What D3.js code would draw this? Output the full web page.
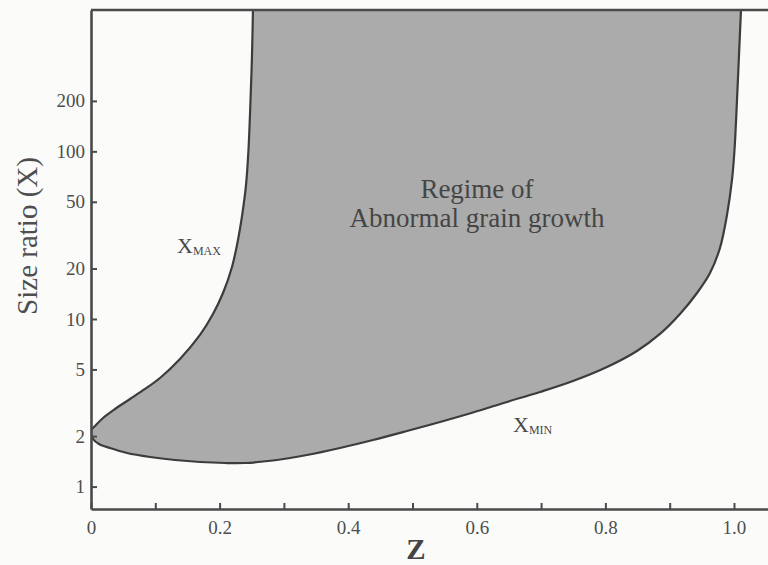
<!DOCTYPE html>
<html>
<head>
<meta charset="utf-8">
<script src="https://cdn.jsdelivr.net/npm/d3@7"></script>
<style>
  html, body { margin: 0; padding: 0; background: #fbfbfa; }
  svg { display: block; }
  text { font-family: "Liberation Serif", "Times New Roman", serif; }
</style>
</head>
<body>
<script>
// Upper boundary of the abnormal-growth regime (X_MAX) vs. Z
const zMax = [0.0000, 0.0078, 0.0187, 0.0373, 0.0607, 0.0840, 0.1073, 0.1384, 0.1695, 0.1897,
              0.2053, 0.2193, 0.2286, 0.2356, 0.2411, 0.2449, 0.2481, 0.2504, 0.2519];
const xMax = [2.15, 2.331, 2.567, 2.904, 3.332, 3.824, 4.446, 5.77, 8.03, 10.71,
              14.29, 20.43, 29.60, 42.91, 63.03, 101.9, 202.6, 376.0, 697];

// Lower boundary (X_MIN) vs. Z
const zMin = [0.0000, 0.0031, 0.0124, 0.0295, 0.0560, 0.0918, 0.1306, 0.1695, 0.2084, 0.2395,
              0.2830, 0.3359, 0.3872, 0.4386, 0.4914, 0.5428, 0.5941, 0.6470, 0.6983, 0.7496,
              0.8025, 0.8491, 0.8849, 0.9160, 0.9425, 0.9627, 0.9782, 0.9891, 0.9969, 1.0008,
              1.0047, 1.0078, 1.0109];
const xMin = [2.15, 1.923, 1.796, 1.699, 1.587, 1.502, 1.441, 1.402, 1.383, 1.383,
              1.431, 1.543, 1.699, 1.897, 2.146, 2.429, 2.768, 3.198, 3.668, 4.267,
              5.171, 6.443, 8.139, 10.71, 14.29, 18.82, 26.52, 41.74, 67.51, 101.9,
              202.6, 376.0, 697];

// Axis ticks
const yTickValues = [1, 2, 5, 10, 20, 50, 100, 200];
const xTickValues = [0, 0.1, 0.2, 0.3, 0.4, 0.5, 0.6, 0.7, 0.8, 0.9, 1.0];
const xTickLabels = ["0", "", "0.2", "", "0.4", "", "0.6", "", "0.8", "", "1.0"];

const W = 768, H = 565;
const svg = d3.select("body").append("svg").attr("width", W).attr("height", H);

const zTop = 1.0529, xLow = 0.735, xHigh = 697;
const x = d3.scaleLinear().domain([0, zTop]).range([91, 768]);
const y = d3.scaleLog().domain([xLow, xHigh]).range([509, 10]);

const axisColor = "#4a4a4a";
const textColor = "#4e4e4e";

// clip to plotting area
svg.append("clipPath").attr("id", "plot")
  .append("rect")
  .attr("x", x(0)).attr("y", y(xHigh))
  .attr("width", x(zTop) - x(0)).attr("height", y(xLow) - y(xHigh));

// closed outline: X_MAX from the top down to the nose, then X_MIN back up to the top
const upper = zMax.map((z, i) => [z, xMax[i]]).reverse();
const lower = zMin.map((z, i) => [z, xMin[i]]).slice(1);
const outline = upper.concat(lower);

const line = d3.line()
  .x(d => x(d[0]))
  .y(d => y(d[1]))
  .curve(d3.curveCatmullRom.alpha(0.5));

const g = svg.append("g").attr("clip-path", "url(#plot)");

g.append("path")
  .attr("d", line(outline) + "Z")
  .attr("fill", "#ababab")
  .attr("stroke", "none");

g.append("path")
  .attr("d", line(outline))
  .attr("fill", "none")
  .attr("stroke", "#3c3c3c")
  .attr("stroke-width", 2.2);

// axes
const xAxis = d3.axisBottom(x)
  .tickValues(xTickValues)
  .tickSizeInner(-6)
  .tickSizeOuter(0)
  .tickPadding(12)
  .tickFormat((d, i) => xTickLabels[i]);

const yAxis = d3.axisLeft(y)
  .tickValues(yTickValues)
  .tickSizeInner(-6)
  .tickSizeOuter(0)
  .tickPadding(6)
  .tickFormat(d3.format("d"));

const gx = svg.append("g").attr("transform", `translate(0,${y(xLow)})`).call(xAxis);
const gy = svg.append("g").attr("transform", `translate(${x(0)},0)`).call(yAxis);

[gx, gy].forEach(a => {
  a.select(".domain").attr("stroke", axisColor).attr("stroke-width", 2.6);
  a.selectAll(".tick line").attr("stroke", axisColor).attr("stroke-width", 2);
  a.selectAll(".tick text")
    .attr("fill", textColor)
    .style("font-size", "19px");
});

// top frame line
svg.append("line")
  .attr("x1", x(0)).attr("x2", x(zTop))
  .attr("y1", y(xHigh)).attr("y2", y(xHigh))
  .attr("stroke", axisColor).attr("stroke-width", 2.6);

// axis titles
svg.append("text")
  .attr("x", 416).attr("y", 559)
  .attr("text-anchor", "middle")
  .attr("fill", "#444")
  .style("font-size", "29px")
  .style("font-weight", "bold")
  .text("Z");

svg.append("text")
  .attr("transform", "translate(37,236) rotate(-90)")
  .attr("text-anchor", "middle")
  .attr("fill", textColor)
  .style("font-size", "29px")
  .text("Size ratio (X)");

// region label
const reg = svg.append("text")
  .attr("text-anchor", "middle")
  .attr("fill", "#454545")
  .style("font-size", "27px");
reg.append("tspan").attr("x", 477).attr("y", 198).text("Regime of");
reg.append("tspan").attr("x", 477).attr("y", 227).text("Abnormal grain growth");

// curve labels
function subLabel(px, py, sub) {
  const t = svg.append("text").attr("x", px).attr("y", py).attr("fill", "#474747");
  t.append("tspan").style("font-size", "22px").text("X");
  t.append("tspan").attr("dy", 2).style("font-size", "12px").text(sub);
}
subLabel(177, 253, "MAX");
subLabel(513, 432, "MIN");
</script>
</body>
</html>
